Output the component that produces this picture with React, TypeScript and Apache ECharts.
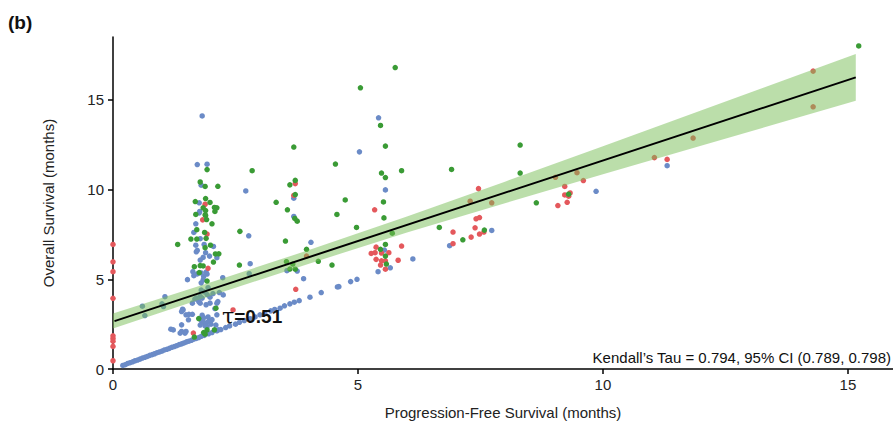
import React, { useEffect, useRef } from "react";
import * as echarts from "echarts";

const xTicks = [0, 5, 10, 15];
const yTicks = [0, 5, 10, 15];
const kendallText = "Kendall\u2019s Tau = 0.794, 95% CI (0.789, 0.798)";
const tauText = "0.51";

const fitLine = [[0.03, 2.67], [15.16, 16.25]];
const bandX = [0, 2, 4, 6, 8, 10, 12, 14, 15.16];
const bandUpper = [3.09, 4.84, 6.63, 8.5, 10.44, 12.41, 14.4, 16.39, 17.55];
const bandLower = [2.25, 4.08, 5.87, 7.6, 9.24, 10.85, 12.44, 14.03, 14.95];

const bluePoints = [
  [1.82, 14.1], [1.72, 11.39], [1.92, 11.41], [1.8, 10.24], [2.71, 9.92], [1.76, 9.26], [1.77, 8.78], [1.76, 8.7],
  [1.69, 8.09], [1.65, 7.61], [1.78, 7.26], [1.86, 6.94], [2.05, 6.83], [1.72, 6.61], [1.89, 6.48], [1.84, 6.22],
  [1.97, 6.29], [2.12, 6.2], [1.69, 6.9], [1.7, 6.53], [1.78, 6.07],
  [2.77, 7.42], [2.8, 5.87], [2.78, 5.31], [4.04, 7.06], [3.89, 5.03], [3.55, 5.48], [3.76, 5.46], [5.42, 14.0],
  [5.03, 12.1], [5.56, 9.98], [3.69, 9.52], [3.69, 8.5], [5.54, 6.63], [5.66, 5.64], [5.41, 5.42],
  [1.52, 4.98], [1.92, 5.29], [1.63, 5.42], [1.84, 4.96], [1.8, 4.8], [1.94, 4.53], [2.24, 5.09], [1.65, 5.2],
  [1.72, 5.3], [1.8, 5.35], [1.85, 5.15], [1.9, 5.4],
  [1.8, 4.4], [1.86, 4.3], [1.92, 4.15], [1.78, 4.05], [1.7, 3.95], [1.82, 3.95], [1.98, 4.0], [2.04, 4.2],
  [2.17, 4.26], [2.25, 4.13],
  [1.75, 3.76], [1.78, 3.67], [1.9, 3.58], [1.98, 3.67], [2.14, 3.76], [2.12, 3.67], [1.62, 3.67], [1.67, 3.9],
  [0.6, 3.5], [0.65, 2.98], [1.06, 4.03], [1.0, 3.63], [1.03, 3.48], [1.42, 3.33], [1.49, 3.02], [1.54, 2.74],
  [1.43, 3.29], [1.4, 3.2], [1.55, 3.05], [1.62, 3.05], [1.4, 2.46],
  [1.8, 2.7], [1.85, 2.6], [1.9, 2.55], [1.95, 2.65], [1.78, 2.45], [1.88, 2.4], [1.92, 2.35], [2.0, 2.5],
  [1.85, 2.85], [1.94, 2.9], [1.82, 3.0], [2.02, 2.75], [2.1, 2.45], [2.15, 2.18],
  [1.18, 2.22], [1.23, 2.18], [1.4, 2.09], [1.49, 2.09], [1.37, 2.0], [1.47, 2.0],
  [2.08, 3.37], [2.12, 3.02],
  [6.12, 6.13], [6.87, 6.87], [7.73, 7.72], [9.86, 9.9], [11.31, 11.33], [4.58, 4.57], [4.61, 4.59], [4.85, 4.87], [4.98, 5.0],
  [0.2, 0.2], [0.25, 0.24], [0.3, 0.31], [0.35, 0.35], [0.4, 0.4], [0.45, 0.46], [0.5, 0.5], [0.55, 0.55],
  [0.6, 0.61], [0.65, 0.65], [0.7, 0.7], [0.75, 0.76], [0.8, 0.8], [0.85, 0.85], [0.9, 0.91], [0.95, 0.95],
  [1.0, 1.0], [1.05, 1.06], [1.1, 1.1], [1.15, 1.15], [1.2, 1.21], [1.25, 1.25], [1.3, 1.3], [1.35, 1.36],
  [1.4, 1.4], [1.45, 1.45], [1.5, 1.51], [1.55, 1.55], [1.6, 1.6], [1.65, 1.66], [1.7, 1.7], [1.75, 1.75],
  [1.8, 1.82], [1.86, 1.87],
  [1.95, 1.96], [2.02, 2.03], [2.12, 2.13], [2.2, 2.2], [2.3, 2.31], [2.38, 2.4], [2.5, 2.5], [2.58, 2.6],
  [2.68, 2.7], [2.8, 2.8], [2.9, 2.9], [3.0, 3.02], [3.1, 3.1], [3.22, 3.24], [3.3, 3.32], [3.41, 3.39],
  [3.5, 3.52], [3.61, 3.63], [3.7, 3.72], [3.8, 3.81], [4.02, 4.0], [4.25, 4.26],
];

const redPoints = [
  [0, 6.94], [0, 5.97], [0, 5.42], [0, 3.94], [0, 1.85], [0, 1.7], [0, 1.55], [0, 1.26], [0, 0.46],
  [1.88, 9.18], [1.83, 8.31], [1.92, 7.52], [1.94, 5.61], [1.64, 2.0],
  [3.72, 10.33], [3.69, 9.67], [3.95, 6.29], [2.45, 3.29], [3.73, 4.44],
  [5.34, 8.87], [5.89, 6.85], [5.37, 6.79], [5.27, 6.44], [5.35, 6.48], [5.48, 6.46], [5.63, 6.48], [5.37, 6.11],
  [5.48, 6.03], [5.56, 6.02], [5.46, 5.79], [5.56, 5.56], [5.82, 6.06],
  [7.46, 10.05], [7.29, 9.35], [7.73, 9.26], [6.94, 7.63], [6.94, 6.98], [7.31, 7.35], [7.39, 7.87], [7.41, 8.37],
  [7.48, 8.44], [7.48, 7.52], [7.57, 7.63],
  [9.03, 10.68], [9.47, 10.94], [9.6, 10.5], [9.22, 10.17], [9.22, 9.7], [9.33, 9.81], [9.3, 9.63], [9.08, 9.11], [9.27, 9.29],
  [11.84, 12.87], [11.05, 11.78], [11.31, 11.68], [14.29, 16.6], [14.29, 14.61],
];

const greenPoints = [
  [5.76, 16.8], [5.05, 15.67], [5.46, 13.57], [3.69, 12.37], [5.56, 12.42], [4.54, 11.42], [2.84, 11.05], [5.48, 10.92],
  [5.89, 11.05], [5.56, 10.67], [3.72, 10.51], [3.61, 10.26], [3.72, 9.72], [4.74, 9.42], [3.33, 9.29], [5.52, 9.31],
  [3.56, 8.87], [4.57, 8.61], [3.71, 8.39], [3.76, 8.24], [5.53, 8.42], [4.97, 7.89], [2.59, 7.67], [5.7, 7.57],
  [3.52, 7.13], [5.56, 6.94], [3.95, 6.67], [5.46, 6.67], [5.56, 6.29], [5.58, 5.85], [4.19, 6.0], [4.47, 5.79],
  [3.54, 5.98], [3.67, 5.85], [3.61, 5.57], [3.72, 5.56], [6.66, 7.89], [6.91, 11.12], [7.14, 7.2], [7.58, 7.74],
  [8.31, 12.48], [8.31, 10.92], [8.64, 9.26], [9.3, 9.74], [15.22, 18.0],
  [1.92, 11.11], [1.78, 10.42], [1.88, 10.17], [2.14, 10.18], [1.89, 9.5], [1.68, 9.33], [1.98, 9.28], [1.84, 8.98],
  [2.07, 9.0], [2.12, 8.98], [1.69, 8.61], [2.08, 8.78], [1.88, 8.59], [1.89, 8.83], [1.91, 8.33], [1.89, 8.56],
  [2.02, 8.09], [1.71, 7.76], [1.87, 7.61], [1.59, 7.24], [1.71, 7.24], [1.9, 7.28], [1.32, 6.94], [1.99, 6.9],
  [1.88, 6.76], [2.09, 6.41], [2.16, 6.42], [1.66, 5.7], [1.78, 5.76], [1.84, 5.74], [2.05, 5.96], [1.76, 5.37],
  [1.92, 4.9], [2.58, 5.79], [1.75, 2.81], [1.92, 2.18], [2.07, 2.18], [1.66, 1.78], [1.85, 2.03], [1.88, 1.94], [2.1, 3.39],
];

const FONT = "'Liberation Sans', Arial, Helvetica, sans-serif";

export default function App() {
  const ref = useRef<HTMLDivElement>(null);
  useEffect(() => {
    document.body.style.margin = "0";
    if (!ref.current) return;
    const chart = echarts.init(ref.current, undefined, { renderer: "svg" });
    const scatterBase = (name: string, data: number[][], color: string, z: number) => ({
      name,
      type: "scatter",
      data,
      symbolSize: 5.5,
      itemStyle: { color, opacity: 1 },
      z,
      silent: true,
    });
    chart.setOption({
      animation: false,
      backgroundColor: "#fff",
      textStyle: { fontFamily: FONT },
      grid: { left: 113, right: 0, top: 37, bottom: 54, containLabel: false, outerBoundsMode: "none" },
      xAxis: {
        type: "value",
        min: 0,
        max: 15.92,
        interval: 5,
        name: "Progression-Free Survival (months)",
        nameLocation: "middle",
        nameGap: 36,
        nameTextStyle: { fontSize: 15, color: "#222", fontFamily: FONT },
        axisLine: { lineStyle: { color: "#000", width: 1.5 } },
        axisTick: { show: true, length: 5, lineStyle: { color: "#000", width: 1.5 }, customValues: xTicks },
        axisLabel: { fontSize: 15, color: "#222", margin: 8, fontFamily: FONT, customValues: xTicks },
        splitLine: { show: false },
      },
      yAxis: {
        type: "value",
        min: 0,
        max: 18.5,
        interval: 5,
        name: "Overall Survival (months)",
        nameLocation: "middle",
        nameGap: 57,
        nameTextStyle: { fontSize: 15, color: "#222", fontFamily: FONT },
        axisLine: { lineStyle: { color: "#000", width: 1.5 } },
        axisTick: { show: true, length: 5, lineStyle: { color: "#000", width: 1.5 }, customValues: yTicks },
        axisLabel: { fontSize: 15, color: "#222", margin: 9, fontFamily: FONT, customValues: yTicks },
        splitLine: { show: false },
      },
      series: [
        scatterBase("blue", bluePoints, "#6B8BC7", 2),
        scatterBase("red", redPoints, "#E4585C", 3),
        scatterBase("green", greenPoints, "#3A9B35", 4),
        {
          type: "custom",
          name: "band",
          data: [[0, 0]],
          z: 5,
          silent: true,
          renderItem: (_params: any, api: any) => {
            const pts: number[][] = [];
            for (let i = 0; i < bandX.length; i++) pts.push(api.coord([bandX[i], bandUpper[i]]));
            for (let i = bandX.length - 1; i >= 0; i--) pts.push(api.coord([bandX[i], bandLower[i]]));
            return {
              type: "polygon",
              shape: { points: pts },
              style: { fill: "rgba(120,190,85,0.5)" },
            };
          },
        },
        {
          type: "line",
          name: "fit",
          data: fitLine,
          symbol: "none",
          z: 6,
          silent: true,
          lineStyle: { color: "#000", width: 2 },
        },
      ],
      graphic: [
        {
          type: "text",
          x: 8,
          y: 22,
          style: { text: "(b)", font: `bold 19px ${FONT}`, fill: "#111", verticalAlign: "middle" },
        },
        {
          type: "text",
          x: 222,
          y: 316,
          z: 10,
          style: {
            text: "{t|\u03c4}{v|=" + tauText + "}",
            verticalAlign: "middle",
            rich: {
              t: { fontSize: 22, fontFamily: "'DejaVu Serif', serif", fontWeight: "normal", fill: "#111" },
              v: { fontSize: 19, fontFamily: FONT, fontWeight: "bold", fill: "#111" },
            },
          },
        },
        {
          type: "text",
          x: 891,
          y: 357,
          z: 10,
          style: { text: kendallText, font: `15px ${FONT}`, fill: "#111", align: "right", verticalAlign: "middle" },
        },
      ],
    });
    return () => chart.dispose();
  }, []);
  return <div ref={ref} style={{ width: 893, height: 423 }} />;
}
